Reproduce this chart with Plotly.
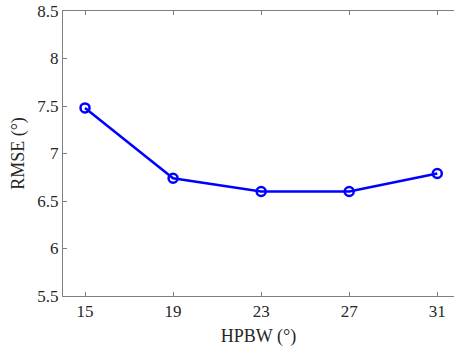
import plotly.graph_objects as go

hpbw = [15, 19, 23, 27, 31]
rmse = [7.48, 6.74, 6.60, 6.60, 6.79]
x_ticks = [15, 19, 23, 27, 31]
y_ticks = [5.5, 6, 6.5, 7, 7.5, 8, 8.5]

fig = go.Figure()
fig.add_trace(go.Scatter(
    x=hpbw, y=rmse, mode="lines+markers",
    line=dict(color="#0000FF", width=2.5),
    marker=dict(symbol="circle-open", size=9, color="#0000FF", line=dict(width=2.5, color="#0000FF")),
    showlegend=False,
))

font = dict(family="Liberation Serif", size=17, color="#262626")
fig.update_layout(
    width=454, height=350,
    margin=dict(l=63, r=0, t=11, b=54),
    paper_bgcolor="white", plot_bgcolor="white",
    font=font,
)
fig.update_xaxes(
    range=[14, 31.76], tickvals=x_ticks, ticktext=[str(v) for v in x_ticks],
    showline=True, linecolor="#808080", linewidth=1, mirror="ticks",
    ticks="inside", ticklen=4, tickcolor="#808080", showgrid=False, zeroline=False,
    tickfont=dict(size=17),
    title=dict(text="HPBW (°)", standoff=8, font=dict(size=18)),
)
fig.update_yaxes(
    range=[5.5, 8.5], tickvals=y_ticks, ticktext=["5.5", "6", "6.5", "7", "7.5", "8", "8.5"],
    showline=True, linecolor="#808080", linewidth=1,
    ticks="inside", ticklen=4, tickcolor="#808080", showgrid=False, zeroline=False,
    tickfont=dict(size=17),
    title=dict(text="RMSE (°)", standoff=8, font=dict(size=18)),
)
fig.write_html("out.html")
